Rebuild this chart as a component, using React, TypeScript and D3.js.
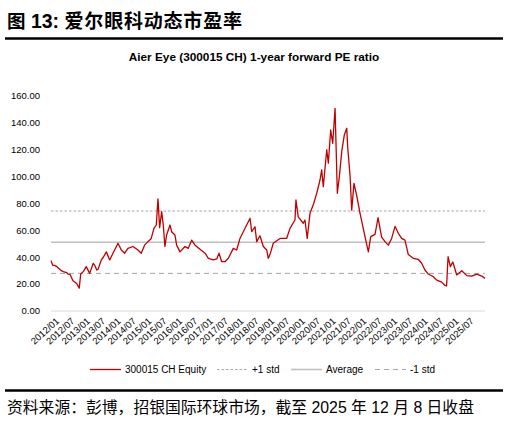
import React, { useEffect, useRef } from 'react'
import * as d3 from 'd3'

// 300015 CH 1-year forward PE
const peDates = [
  '2011-10-22', '2011-11-11', '2011-12-04', '2012-01-01', '2012-02-21', '2012-03-16', '2012-04-26',
  '2012-05-11', '2012-06-04', '2012-07-09', '2012-08-22', '2012-09-22', '2012-10-09', '2012-11-09',
  '2012-12-14', '2013-01-24', '2013-03-08', '2013-03-25', '2013-04-18', '2013-05-03', '2013-06-11',
  '2013-07-05', '2013-08-10', '2013-09-19', '2013-10-28', '2013-12-27', '2014-02-04', '2014-03-16',
  '2014-04-24', '2014-06-23', '2014-08-21', '2014-09-29', '2014-11-08', '2014-12-18', '2015-01-26',
  '2015-02-27', '2015-03-27', '2015-04-16', '2015-05-06', '2015-05-30', '2015-06-18', '2015-07-08',
  '2015-07-28', '2015-09-06', '2015-09-26', '2015-11-04', '2015-11-24', '2016-01-03', '2016-03-02',
  '2016-04-11', '2016-05-21', '2016-06-30', '2016-08-28', '2016-10-27', '2016-12-05', '2017-02-03',
  '2017-03-15', '2017-04-11', '2017-05-13', '2017-06-21', '2017-07-31', '2017-09-28', '2017-11-07',
  '2017-12-16', '2018-01-25', '2018-03-06', '2018-04-15', '2018-05-05', '2018-06-13', '2018-07-03',
  '2018-08-11', '2018-09-20', '2018-10-30', '2018-11-18', '2018-12-08', '2019-01-16', '2019-04-06',
  '2019-06-24', '2019-08-03', '2019-10-01', '2019-10-13', '2019-11-09', '2020-01-08', '2020-01-28',
  '2020-02-24', '2020-03-28', '2020-05-06', '2020-06-16', '2020-07-25', '2020-08-14', '2020-09-02',
  '2020-10-13', '2020-11-01', '2020-11-29', '2020-12-23', '2021-01-20', '2021-02-16', '2021-03-12',
  '2021-04-09', '2021-05-10', '2021-06-08', '2021-06-19', '2021-07-17', '2021-08-06', '2021-09-02',
  '2021-10-04', '2021-11-13', '2022-01-11', '2022-02-20', '2022-03-20', '2022-05-10', '2022-06-15',
  '2022-07-28', '2022-09-06', '2022-10-15', '2022-11-24', '2023-01-03', '2023-02-11', '2023-03-23',
  '2023-05-01', '2023-06-10', '2023-08-08', '2023-10-06', '2023-11-16', '2023-12-25', '2024-02-03',
  '2024-04-03', '2024-05-13', '2024-07-11', '2024-08-20', '2024-09-07', '2024-09-25', '2024-10-22',
  '2024-11-20', '2025-01-06', '2025-03-07', '2025-05-06', '2025-07-03', '2025-09-01', '2025-10-30',
  '2025-12-08',
]

const peValues = [
  37.5, 34, 34, 33, 30, 29.3, 28.5,
  27.5, 27.3, 22.5, 20.5, 17, 27.5, 29.3,
  33, 28, 35.5, 34, 30.5, 31, 38,
  40, 44, 38, 43, 50.4, 45.4, 43,
  46.6, 48, 45.4, 43, 49, 51.6, 54,
  61.5, 64, 83.5, 62, 73.9, 64, 48,
  56.6, 64, 59, 56.6, 49, 44, 48,
  46.6, 52.8, 49, 46, 43, 39.2, 38,
  38.7, 43, 36.7, 36.7, 39.2, 46.6, 45.4,
  54, 59, 64, 69, 59, 62.7, 51.6,
  56, 48, 45.4, 39.2, 42, 50.4, 54,
  54, 61.5, 67.7, 82.6, 70, 65.3, 67.7,
  54, 72.7, 79, 87.6, 97.5, 105, 92.5,
  120, 110, 134.7, 124.8, 150.8, 87.6, 100,
  118.6, 131, 136, 122, 101, 75, 95,
  86, 72.7, 55.3, 44, 55.3, 57, 69.4,
  55, 51.6, 49, 54, 63, 57.8, 54,
  52.8, 42, 39.2, 38.5, 35.5, 30.5, 27.5,
  25.5, 23, 21.5, 19, 18.6, 40.4, 33,
  36.5, 26.8, 30, 26.3, 26, 27.5, 26,
  24.3,
]

const averagePE = 51.2
const stdPE = 23.2

const yTicks = [0, 20, 40, 60, 80, 100, 120, 140, 160]
const xLabels = [
  '2012/01', '2012/07', '2013/01', '2013/07', '2014/01', '2014/07', '2015/01',
  '2015/07', '2016/01', '2016/07', '2017/01', '2017/07', '2018/01', '2018/07',
  '2019/01', '2019/07', '2020/01', '2020/07', '2021/01', '2021/07', '2022/01',
  '2022/07', '2023/01', '2023/07', '2024/01', '2024/07', '2025/01', '2025/07',
]

const RED = '#c00000'
const FONT = '"Liberation Sans", Arial, "Noto Sans CJK SC", sans-serif'

export default function App() {
  const svgRef = useRef<SVGSVGElement>(null)

  useEffect(() => {
    if (!svgRef.current) return
    const svg = d3.select(svgRef.current)
    svg.selectAll('*').remove()

    const parse = d3.timeParse('%Y-%m-%d')
    const parseLabel = d3.timeParse('%Y/%m')
    const series = peDates.map((d, i) => ({ date: parse(d) as Date, value: peValues[i] }))

    const x = d3
      .scaleTime()
      .domain([series[0].date, series[series.length - 1].date])
      .range([51, 485])
    const y = d3.scaleLinear().domain([0, 160]).range([311, 96])

    // Header
    const header = svg
      .append('text')
      .attr('x', 7)
      .attr('y', 28)
      .attr('font-family', FONT)
      .attr('fill', '#000')
    header.append('tspan').attr('font-size', 18.5).attr('font-weight', 600).text('图')
    header.append('tspan').attr('font-size', 19.5).attr('font-weight', 'bold').text(' 13: ')
    header
      .append('tspan')
      .attr('font-size', 19)
      .attr('font-weight', 600)
      .attr('letter-spacing', 0.8)
      .text('爱尔眼科动态市盈率')
    svg.append('line').attr('x1', 5).attr('x2', 503).attr('y1', 38.5).attr('y2', 38.5).attr('stroke', '#000').attr('stroke-width', 2.5)

    svg
      .append('text')
      .attr('x', 254)
      .attr('y', 61)
      .attr('text-anchor', 'middle')
      .attr('font-family', FONT)
      .attr('font-size', 11.8)
      .attr('font-weight', 'bold')
      .attr('fill', '#000')
      .text('Aier Eye (300015 CH) 1-year forward PE ratio')

    // Y axis labels
    svg
      .append('g')
      .selectAll('text')
      .data(yTicks)
      .enter()
      .append('text')
      .attr('x', 40)
      .attr('y', (d) => y(d))
      .attr('dy', '0.35em')
      .attr('text-anchor', 'end')
      .attr('font-family', FONT)
      .attr('font-size', 9.5)
      .attr('fill', '#000')
      .text((d) => d.toFixed(2))

    // Base line
    svg.append('line').attr('x1', 51).attr('x2', 485).attr('y1', y(0)).attr('y2', y(0)).attr('stroke', '#d9d9d9').attr('stroke-width', 1)

    // X labels
    svg
      .append('g')
      .selectAll('text')
      .data(xLabels)
      .enter()
      .append('text')
      .attr('transform', (d) => `translate(${x(parseLabel(d) as Date) + 3},322) rotate(-42)`)
      .attr('text-anchor', 'end')
      .attr('font-family', FONT)
      .attr('font-size', 9.5)
      .attr('fill', '#000')
      .text((d) => d)

    // Reference lines
    const refLines = [
      { v: averagePE + stdPE, stroke: '#a6a6a6', width: 1, dash: '2.5,2' },
      { v: averagePE, stroke: '#bfbfbf', width: 1.6, dash: null },
      { v: averagePE - stdPE, stroke: '#a6a6a6', width: 1, dash: '5,4' },
    ]
    refLines.forEach((r) => {
      svg
        .append('line')
        .attr('x1', 51)
        .attr('x2', 485)
        .attr('y1', y(r.v))
        .attr('y2', y(r.v))
        .attr('stroke', r.stroke)
        .attr('stroke-width', r.width)
        .attr('stroke-dasharray', r.dash)
    })

    // PE line
    const line = d3
      .line<{ date: Date; value: number }>()
      .x((d) => x(d.date))
      .y((d) => y(d.value))
    svg
      .append('path')
      .datum(series)
      .attr('d', line)
      .attr('fill', 'none')
      .attr('stroke', RED)
      .attr('stroke-width', 1.3)
      .attr('stroke-linejoin', 'round')

    // Legend
    const legendItems = [
      { label: '300015 CH Equity', x: 90, stroke: RED, width: 1.3, dash: null },
      { label: '+1 std', x: 217, stroke: '#a6a6a6', width: 1, dash: '2.5,2' },
      { label: 'Average', x: 291, stroke: '#bfbfbf', width: 1.6, dash: null },
      { label: '-1 std', x: 375, stroke: '#a6a6a6', width: 1, dash: '5,4' },
    ]
    const legend = svg.append('g')
    legendItems.forEach((item) => {
      legend
        .append('line')
        .attr('x1', item.x)
        .attr('x2', item.x + 31)
        .attr('y1', 369.5)
        .attr('y2', 369.5)
        .attr('stroke', item.stroke)
        .attr('stroke-width', item.width)
        .attr('stroke-dasharray', item.dash)
      legend
        .append('text')
        .attr('x', item.x + 35)
        .attr('y', 373)
        .attr('font-family', FONT)
        .attr('font-size', 10)
        .attr('fill', '#000')
        .text(item.label)
    })

    // Footer
    svg.append('line').attr('x1', 5).attr('x2', 503).attr('y1', 390.5).attr('y2', 390.5).attr('stroke', '#000').attr('stroke-width', 2.5)
    svg
      .append('text')
      .attr('x', 7)
      .attr('y', 413)
      .attr('font-family', FONT)
      .attr('font-size', 15.8)
      .attr('fill', '#000')
      .text('资料来源：彭博，招银国际环球市场，截至 2025 年 12 月 8 日收盘')
  }, [])

  return (
    <div style={{ position: 'absolute', left: 0, top: 0 }}>
      <svg ref={svgRef} width={508} height={425} style={{ display: 'block', background: '#fff' }} />
    </div>
  )
}
